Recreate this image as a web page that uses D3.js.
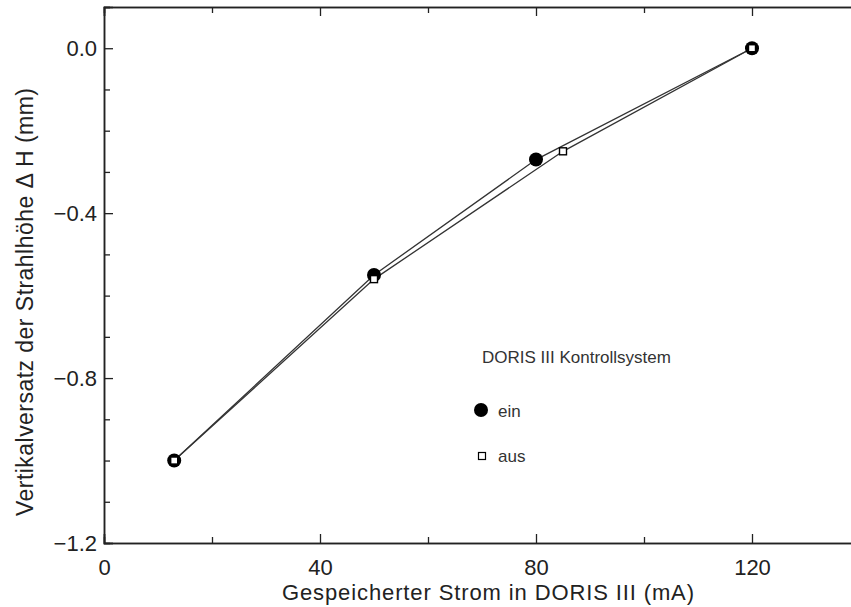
<!DOCTYPE html>
<html lang="de">
<head>
<meta charset="UTF-8">
<title>DORIS III Strahlhöhe</title>
<script src="https://d3js.org/d3.v7.min.js"></script>
<style>
  body { margin: 0; background: #fff; }
  text { font-family: "Liberation Sans", Arial, sans-serif; fill: #222; }
</style>
</head>
<body>
<svg></svg>
<script>
// data
const einStrom = [13, 50, 80, 120];
const einDH = [-1.0, -0.55, -0.27, 0.0];
const ausStrom = [13, 50, 85, 120];
const ausDH = [-1.0, -0.56, -0.25, 0.0];

const xTicks = [0, 40, 80, 120];
const xMinor = [20, 60, 100, 140];
const yTicks = [0.0, -0.4, -0.8, -1.2];
const yMinor = [0.1, -0.1, -0.2, -0.3, -0.5, -0.6, -0.7, -0.9, -1.0, -1.1];

const W = 851, H = 607;
const margin = { top: 7, right: -9, bottom: 64, left: 104 };

const svg = d3.select("svg").attr("width", W).attr("height", H);

const x = d3.scaleLinear().domain([0, 140]).range([margin.left, W - margin.right]);
const y = d3.scaleLinear().domain([-1.2, 0.1]).range([H - margin.bottom, margin.top]);

const fmtY = d3.format(".1f");

// axes: ticks point inward
function styleAxis(g) {
    g.select(".domain").attr("stroke", "#222").attr("stroke-width", 1.5);
    g.selectAll(".tick line").attr("stroke", "#222").attr("stroke-width", 1.3);
    g.selectAll(".tick text").style("font-size", "22px").attr("fill", "#222");
}

svg.append("g")
    .attr("transform", `translate(0,${y(-1.2)})`)
    .call(d3.axisBottom(x).tickValues(xTicks).tickSize(-9).tickPadding(16).tickFormat(d3.format("d")))
    .call(styleAxis);
svg.append("g")
    .attr("transform", `translate(0,${y(-1.2)})`)
    .call(d3.axisBottom(x).tickValues(xMinor).tickSize(-6).tickFormat(""))
    .call(styleAxis);

svg.append("g")
    .attr("transform", `translate(0,${y(0.1)})`)
    .call(d3.axisTop(x).tickValues(xTicks).tickSize(-9).tickFormat(""))
    .call(styleAxis);
svg.append("g")
    .attr("transform", `translate(0,${y(0.1)})`)
    .call(d3.axisTop(x).tickValues(xMinor).tickSize(-6).tickFormat(""))
    .call(styleAxis);

svg.append("g")
    .attr("transform", `translate(${x(0)},0)`)
    .call(d3.axisLeft(y).tickValues(yTicks).tickSize(-9).tickPadding(7).tickFormat(fmtY))
    .call(styleAxis);
svg.append("g")
    .attr("transform", `translate(${x(0)},0)`)
    .call(d3.axisLeft(y).tickValues(yMinor).tickSize(-6).tickFormat(""))
    .call(styleAxis);

svg.append("g")
    .attr("transform", `translate(${x(140)},0)`)
    .call(d3.axisRight(y).tickValues(yTicks).tickSize(-9).tickFormat(""))
    .call(styleAxis);

// axis titles
svg.append("text")
    .attr("x", 488)
    .attr("y", 600)
    .attr("text-anchor", "middle")
    .attr("textLength", 412)
    .style("font-size", "22px")
    .text("Gespeicherter Strom in DORIS III (mA)");

svg.append("text")
    .attr("transform", "translate(33,302) rotate(-90)")
    .attr("text-anchor", "middle")
    .attr("textLength", 428)
    .style("font-size", "23px")
    .text("Vertikalversatz der Strahlhöhe \u0394 H (mm)");

// lines
const ein = einStrom.map((s, i) => ({ s, v: einDH[i] }));
const aus = ausStrom.map((s, i) => ({ s, v: ausDH[i] }));
const line = d3.line().x(d => x(d.s)).y(d => y(d.v));

[ein, aus].forEach(data => {
    svg.append("path")
        .datum(data)
        .attr("d", line)
        .attr("fill", "none")
        .attr("stroke", "#333")
        .attr("stroke-width", 1.3);
});

// markers
svg.selectAll("circle.ein")
    .data(ein)
    .enter()
    .append("circle")
    .attr("class", "ein")
    .attr("cx", d => x(d.s))
    .attr("cy", d => y(d.v))
    .attr("r", 7)
    .attr("fill", "#000");

svg.selectAll("rect.aus")
    .data(aus)
    .enter()
    .append("rect")
    .attr("class", "aus")
    .attr("x", d => x(d.s) - 3.5)
    .attr("y", d => y(d.v) - 3.5)
    .attr("width", 7)
    .attr("height", 7)
    .attr("fill", "#fff")
    .attr("stroke", "#000")
    .attr("stroke-width", 1.4);

// legend
const legend = svg.append("g");
legend.append("text")
    .attr("x", 482)
    .attr("y", 363)
    .style("font-size", "17px")
    .style("fill", "#333")
    .text("DORIS III Kontrollsystem");
legend.append("circle")
    .attr("cx", 481)
    .attr("cy", 410)
    .attr("r", 7)
    .attr("fill", "#000");
legend.append("text")
    .attr("x", 498)
    .attr("y", 417)
    .style("font-size", "17px")
    .style("fill", "#333")
    .text("ein");
legend.append("rect")
    .attr("x", 478.5)
    .attr("y", 452.5)
    .attr("width", 7)
    .attr("height", 7)
    .attr("fill", "#fff")
    .attr("stroke", "#000")
    .attr("stroke-width", 1.2);
legend.append("text")
    .attr("x", 498)
    .attr("y", 462)
    .style("font-size", "17px")
    .style("fill", "#333")
    .text("aus");
</script>
</body>
</html>
